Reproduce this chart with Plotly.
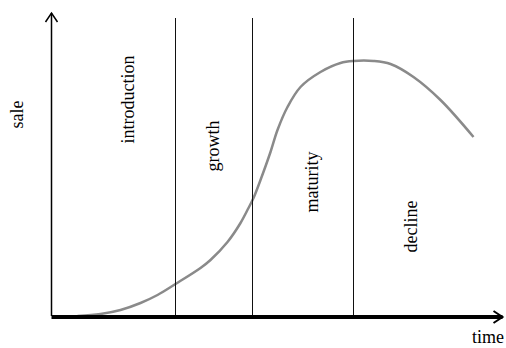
import plotly.graph_objects as go

# Product life cycle curve (time from origin, sale from origin)
time_vals = [26, 49, 69, 89, 106, 124, 149, 159, 176, 189, 197, 202, 209, 219, 226, 236, 249, 269, 289, 302, 322, 339, 362, 389, 422]
sale_vals = [0, 2, 6, 13, 21, 32, 48, 56, 74, 93, 108, 118, 136, 164, 186, 209, 229, 244, 253, 255, 255, 252, 239, 216, 179]

# Stage boundaries (time)
stage_bounds = [124, 201, 302]
stage_top = 298

# Stage labels
stage_names = ["introduction", "growth", "maturity", "decline"]
stage_label_x = [76, 161, 260, 359]
stage_label_y = [216, 170, 134, 89]

x_max = 451
y_max = 303

fig = go.Figure()

fig.add_trace(go.Scatter(
    x=time_vals, y=sale_vals, mode="lines",
    line=dict(color="#8a8a8a", width=2.5, shape="spline", smoothing=1.0),
    hoverinfo="skip", showlegend=False))

# Stage boundaries
for b in stage_bounds:
    fig.add_shape(type="line", x0=b, x1=b, y0=0, y1=stage_top, xref="x", yref="y",
                  line=dict(color="#111111", width=1))

# Axes
fig.add_shape(type="line", x0=0, x1=0, y0=0, y1=y_max, xref="x", yref="y",
              line=dict(color="black", width=1.5))
fig.add_shape(type="line", x0=0, x1=x_max, y0=-1, y1=-1, xref="x", yref="y",
              line=dict(color="black", width=4))
# Arrowheads
fig.add_trace(go.Scatter(x=[-6, 0, 6], y=[y_max - 9, y_max, y_max - 9], mode="lines",
                         line=dict(color="black", width=1.5), hoverinfo="skip", showlegend=False))
fig.add_trace(go.Scatter(x=[x_max - 9, x_max, x_max - 9], y=[5, -1, -7], mode="lines",
                         line=dict(color="black", width=2), hoverinfo="skip", showlegend=False))

font = dict(family="Liberation Serif", size=18, color="black")
for name, lx, ly in zip(stage_names, stage_label_x, stage_label_y):
    fig.add_annotation(x=lx, y=ly, text=name, textangle=-90, showarrow=False,
                       xanchor="center", yanchor="middle", font=font, borderpad=0)

fig.add_annotation(x=-35, y=201, text="sale", textangle=-90, showarrow=False,
                   xanchor="center", yanchor="middle", font=font, borderpad=0)
fig.add_annotation(x=453.5, y=-31.5, text="time", showarrow=False,
                   xanchor="right", yanchor="bottom", font=font, borderpad=0)

fig.update_layout(
    width=506, height=348,
    margin=dict(l=0, r=0, t=0, b=0),
    paper_bgcolor="white", plot_bgcolor="white",
    xaxis=dict(range=[-51.5, 454.5], visible=False, fixedrange=True),
    yaxis=dict(range=[-32, 316], visible=False, fixedrange=True),
    showlegend=False,
)

fig.write_html(
    "out.html",
    config={"displayModeBar": False},
    post_script="document.body.style.margin='0';document.body.style.overflow='hidden';",
)
